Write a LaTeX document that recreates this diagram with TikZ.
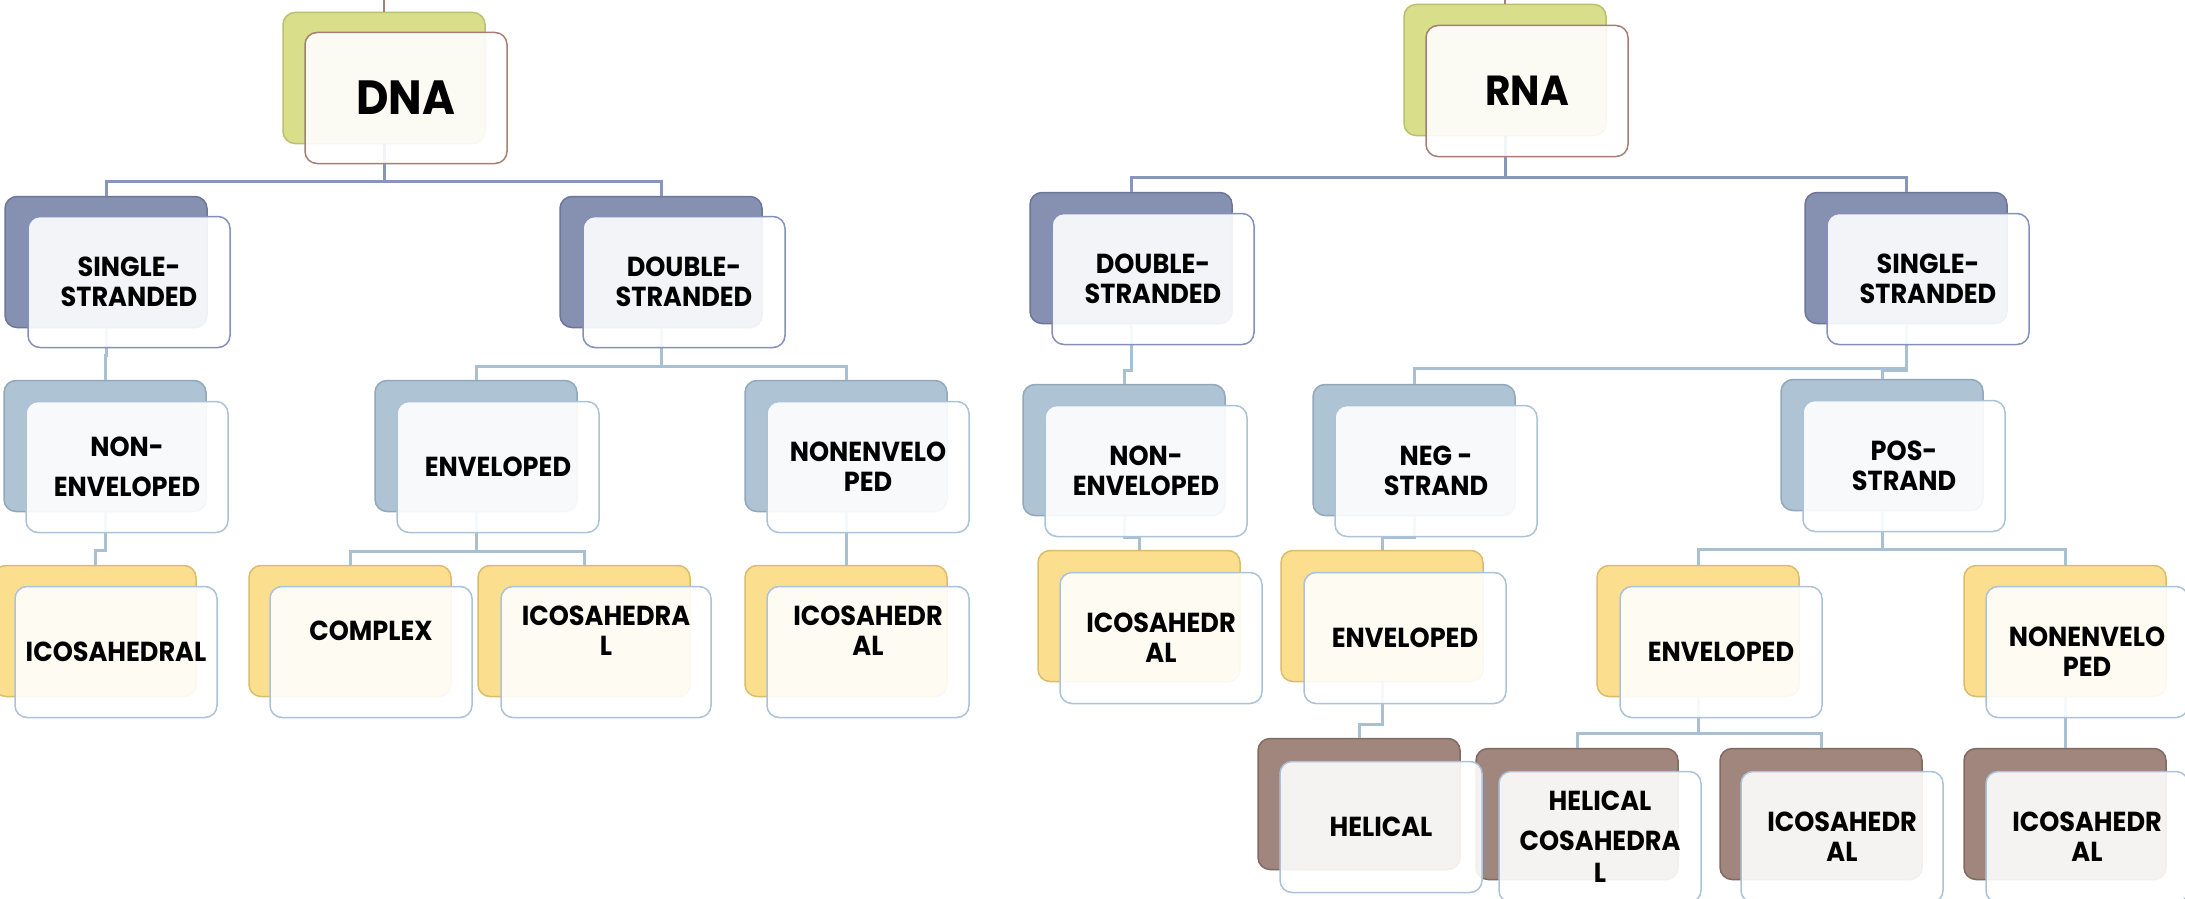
\documentclass[tikz,border=0pt]{standalone}
\usepackage{fontspec}
\setmainfont{Poppins}[FakeStretch=0.93]
\usetikzlibrary{positioning}

\definecolor{rootfill}{RGB}{216,222,138}
\definecolor{rootline}{RGB}{186,192,108}
\definecolor{strandfill}{RGB}{134,145,178}
\definecolor{strandline}{RGB}{108,118,152}
\definecolor{envfill}{RGB}{174,196,212}
\definecolor{envline}{RGB}{146,168,186}
\definecolor{capsidfill}{RGB}{251,223,142}
\definecolor{capsidline}{RGB}{218,188,108}
\definecolor{helixfill}{RGB}{160,134,125}
\definecolor{helixline}{RGB}{128,106,98}
\definecolor{rootedge}{RGB}{166,126,116}
\definecolor{paleedge}{RGB}{172,194,216}
\definecolor{darkedge}{RGB}{132,144,186}
\definecolor{linkdark}{RGB}{137,150,188}
\definecolor{linklight}{RGB}{168,192,212}

\begin{document}
\begin{tikzpicture}[
  x=1pt, y=-1pt,
  every node/.style={font=\fontsize{27.5}{30}\selectfont\bfseries, align=center},
  backbox/.style={draw, rounded corners=12pt, line width=1.5pt,
                  minimum width=202pt, minimum height=131pt, inner sep=0pt},
  frontbox/.style={draw=#1, fill=white, fill opacity=0.9, text opacity=1,
                   rounded corners=12pt, line width=1.5pt,
                   minimum width=202pt, minimum height=131pt, inner sep=0pt},
  frontbox/.default=paleedge,
  rootback/.style={backbox, fill=rootfill, draw=rootline},
  strandback/.style={backbox, fill=strandfill, draw=strandline},
  envback/.style={backbox, fill=envfill, draw=envline},
  capsidback/.style={backbox, fill=capsidfill, draw=capsidline},
  helixback/.style={backbox, fill=helixfill, draw=helixline},
  lifted/.style={text depth=42pt},
  darklink/.style={draw=linkdark, line width=3pt},
  lightlink/.style={draw=linklight, line width=3pt}
]
\useasboundingbox (0,0) rectangle (2185,899);

% ---- DNA back boxes ----
\node[rootback] (dnaB) at (384,78) {};
\node[strandback] (dssB) at (106,262) {};
\node[strandback] (ddsB) at (661,262) {};
\node[envback] (dnonB) at (105,446) {};
\node[envback] (denvB) at (476,446) {};
\node[envback] (dnonenvB) at (846,446) {};
\node[capsidback] (dicoaB) at (95,631) {};
\node[capsidback] (dcomplexB) at (350,631) {};
\node[capsidback, minimum width=212pt] (dicobB) at (584,631) {};
\node[capsidback] (dicocB) at (846,631) {};

% ---- RNA back boxes ----
\node[rootback] (rnaB) at (1505,70) {};
\node[strandback] (rdsB) at (1131,258) {};
\node[strandback] (rssB) at (1906,258) {};
\node[envback] (rnonB) at (1124,450) {};
\node[envback] (rnegB) at (1414,450) {};
\node[envback] (rposB) at (1882,445) {};
\node[capsidback] (ricoaB) at (1139,616) {};
\node[capsidback] (renvaB) at (1382,616) {};
\node[capsidback] (renvbB) at (1698,631) {};
\node[capsidback] (rnonenvB) at (2065,631) {};
\node[helixback] (rheliB) at (1359,804) {};
\node[helixback] (rhelicoB) at (1577,814) {};
\node[helixback] (ricobB) at (1821,814) {};
\node[helixback] (ricocB) at (2065,814) {};

% ---- DNA links ----
\coordinate (dnatop) at (384,0);
\draw[draw=rootedge, line width=2pt] (dnatop) -- (dnaB.north);
\draw[darklink] (dnaB.south) -- ++(0,37) -| (dssB.north);
\draw[darklink] (dnaB.south) -- ++(0,37) -| (ddsB.north);
\draw[lightlink] (dssB.south) -- ++(0,27) -| (dnonB.north);
\draw[lightlink] (ddsB.south) -- ++(0,38) -| (denvB.north);
\draw[lightlink] (ddsB.south) -- ++(0,38) -| (dnonenvB.north);
\draw[lightlink] (dnonB.south) -- ++(0,38) -| (dicoaB.north);
\draw[lightlink] (denvB.south) -- ++(0,39) -| (dcomplexB.north);
\draw[lightlink] (denvB.south) -- ++(0,39) -| (dicobB.north);
\draw[lightlink] (dnonenvB.south) -- (dicocB.north);

% ---- RNA links ----
\coordinate (rnatop) at (1505,0);
\draw[draw=rootedge, line width=2pt] (rnatop) -- (rnaB.north);
\draw[darklink] (rnaB.south) -- ++(0,41) -| (rdsB.north);
\draw[darklink] (rnaB.south) -- ++(0,41) -| (rssB.north);
\draw[lightlink] (rdsB.south) -- ++(0,46) -| (rnonB.north);
\draw[lightlink] (rssB.south) -- ++(0,44) -| (rnegB.north);
\draw[lightlink] (rssB.south) -- ++(0,46) -| (rposB.north);
\draw[lightlink] (rnonB.south) -- ++(0,21) -| (ricoaB.north);
\draw[lightlink] (rnegB.south) -- ++(0,21) -| (renvaB.north);
\draw[lightlink] (rposB.south) -- ++(0,38) -| (renvbB.north);
\draw[lightlink] (rposB.south) -- ++(0,38) -| (rnonenvB.north);
\draw[lightlink] (renvaB.south) -- ++(0,42) -| (rheliB.north);
\draw[lightlink] (renvbB.south) -- ++(0,36) -| (rhelicoB.north);
\draw[lightlink] (renvbB.south) -- ++(0,36) -| (ricobB.north);
\draw[lightlink] (rnonenvB.south) -- (ricocB.north);

% ---- DNA front boxes ----
\node[frontbox=rootedge, font=\fontsize{48}{52}\selectfont\bfseries] (dna) at (406,98) {DNA};
\node[frontbox=darkedge] (dss) at (129,282) {SINGLE-\\STRANDED};
\node[frontbox=darkedge] (dds) at (684,282) {DOUBLE-\\STRANDED};
\node[frontbox] (dnon) at (127,467) {NON-\\[10pt]ENVELOPED};
\node[frontbox] (denv) at (498,467) {ENVELOPED};
\node[frontbox] (dnonenv) at (868,467) {NONENVELO\\PED};
\node[frontbox] (dicoa) at (116,652) {ICOSAHEDRAL};
\node[frontbox, lifted] (dcomplex) at (371,652) {COMPLEX};
\node[frontbox, lifted, minimum width=210pt] (dicob) at (606,652) {ICOSAHEDRA\\L};
\node[frontbox, lifted] (dicoc) at (868,652) {ICOSAHEDR\\AL};

% ---- RNA front boxes ----
\node[frontbox=rootedge, font=\fontsize{42}{46}\selectfont\bfseries] (rna) at (1527,91) {RNA};
\node[frontbox=darkedge] (rds) at (1153,279) {DOUBLE-\\STRANDED};
\node[frontbox=darkedge] (rss) at (1928,279) {SINGLE-\\STRANDED};
\node[frontbox] (rnon) at (1146,471) {NON-\\ENVELOPED};
\node[frontbox] (rneg) at (1436,471) {NEG -\\STRAND};
\node[frontbox] (rpos) at (1904,466) {POS-\\STRAND};
\node[frontbox] (ricoa) at (1161,638) {ICOSAHEDR\\AL};
\node[frontbox] (renva) at (1405,638) {ENVELOPED};
\node[frontbox] (renvb) at (1721,652) {ENVELOPED};
\node[frontbox] (rnonenv) at (2087,652) {NONENVELO\\PED};
\node[frontbox] (rheli) at (1381,827) {HELICAL};
\node[frontbox] (rhelico) at (1600,837) {HELICAL\\[10pt]COSAHEDRA\\[2pt]L};
\node[frontbox] (ricob) at (1842,837) {ICOSAHEDR\\AL};
\node[frontbox] (ricoc) at (2087,837) {ICOSAHEDR\\AL};

\end{tikzpicture}
\end{document}
